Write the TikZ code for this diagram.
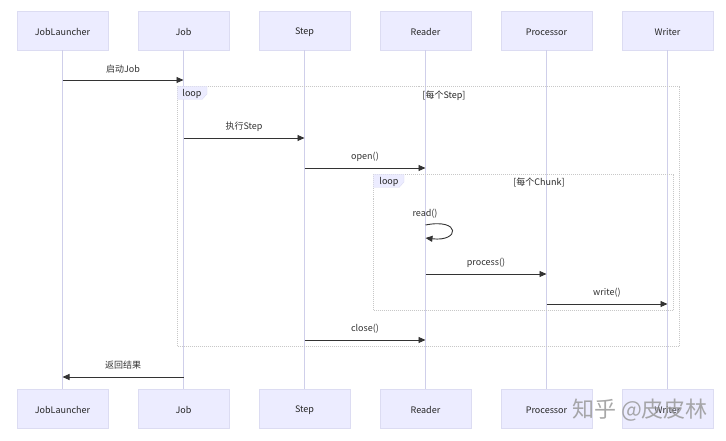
\documentclass[tikz,border=0pt]{standalone}
\usepackage{fontspec}
\setmainfont{Noto Sans CJK SC}
\usetikzlibrary{arrows.meta}
\definecolor{actorfill}{HTML}{ECECFF}
\definecolor{actorline}{HTML}{DCDCF2}
\definecolor{lifeline}{HTML}{CFCFEA}
\definecolor{msgline}{HTML}{333333}
\definecolor{loopline}{HTML}{C8C8C8}
\tikzset{
  actor/.style={fill=actorfill, draw=actorline, line width=0.5pt, minimum width=91pt, minimum height=39pt, inner sep=0pt, font=\fontsize{9}{10}\selectfont, text=black!85},
  actortext/.style={font=\fontsize{9}{10}\selectfont, text=black!85, inner sep=0pt},
  life/.style={draw=lifeline, line width=0.8pt},
  msg/.style={draw=msgline, line width=0.9pt, -{Triangle[length=7pt,width=6pt]}},
  msglabel/.style={font=\fontsize{9}{10}\selectfont, text=black!80, inner sep=0pt},
  loopbox/.style={draw=loopline, line width=0.6pt, dash pattern=on 1pt off 1pt},
  looptag/.style={fill=actorfill, draw=actorline, line width=0.4pt},
  looptext/.style={font=\fontsize{9}{10}\selectfont, text=black!85, inner sep=0pt},
}
\begin{document}
\begin{tikzpicture}[x=1pt,y=-1pt]
\useasboundingbox (0,0) rectangle (726,441);
% participants top
\node[actor] (jl) at (62.5,30.5) {};
\node[actor] (job) at (183.5,30.5) {};
\node[actor] (step) at (304.5,30.5) {};
\node[actor] (rd) at (425.5,30.5) {};
\node[actor] (pr) at (546.5,30.5) {};
\node[actor] (wr) at (667.5,30.5) {};
% participants bottom
\node[actor] (jlb) at (62.5,408.5) {};
\node[actor] (jobb) at (183.5,408.5) {};
\node[actor] (stepb) at (304.5,408.5) {};
\node[actor] (rdb) at (425.5,408.5) {};
\node[actor] (prb) at (546.5,408.5) {};
\node[actor] (wrb) at (667.5,408.5) {};
\foreach \a/\t in {jl/JobLauncher, job/Job, step/Step, rd/Reader, pr/Processor, wr/Writer}{
  \node[actortext] (\a-t) at ([yshift=-1.5pt]\a.center) {\t};
  \node[actortext] (\a b-t) at ([yshift=-1.5pt]\a b.center) {\t};
}
% lifelines
\foreach \a/\b in {jl/jlb, job/jobb, step/stepb, rd/rdb, pr/prb, wr/wrb}
  \draw[life] (\a.south) -- (\b.north);
% outer loop
\draw[loopbox] (177.5,86.5) rectangle (679.5,346.5);
\draw[looptag] (177.5,86.5) -- (207,86.5) -- (207,94) -- (202,99.5) -- (177.5,99.5) -- cycle;
\node[looptext] (l1) at (192,94) {loop};
\node[looptext] (c1) at (444,95.5) {[每个Step]};
% inner loop
\draw[loopbox] (373.5,174.5) rectangle (673.5,310.5);
\draw[looptag] (373.5,174.5) -- (404,174.5) -- (404,182) -- (399,187.5) -- (373.5,187.5) -- cycle;
\node[looptext] (l2) at (389,182) {loop};
\node[looptext] (c2) at (539,182.5) {[每个Chunk]};
% message points
\coordinate (a1) at (62.5,80);  \coordinate (b1) at (183.5,80);
\coordinate (a2) at (183.5,138); \coordinate (b2) at (304.5,138);
\coordinate (a3) at (304.5,168); \coordinate (b3) at (425.5,168);
\coordinate (a4) at (425.5,225); \coordinate (b4) at (425.5,238);
\coordinate (a5) at (425.5,274); \coordinate (b5) at (546.5,274);
\coordinate (a6) at (546.5,304); \coordinate (b6) at (667.5,304);
\coordinate (a7) at (304.5,340); \coordinate (b7) at (425.5,340);
\coordinate (a8) at (183.5,377); \coordinate (b8) at (62.5,377);
\draw[msg] (a1) -- (b1);
\node[msglabel] (t1) at (123,69.5) {启动Job};
\draw[msg] (a2) -- (b2);
\node[msglabel] (t2) at (244,127) {执行Step};
\draw[msg] (a3) -- (b3);
\node[msglabel] (t3) at (365,157) {open()};
\draw[msg] (a4) .. controls (461,218) and (460,242) .. (b4);
\node[msglabel] (t4) at (425,214) {read()};
\draw[msg] (a5) -- (b5);
\node[msglabel] (t5) at (486,263) {process()};
\draw[msg] (a6) -- (b6);
\node[msglabel] (t6) at (607,293) {write()};
\draw[msg] (a7) -- (b7);
\node[msglabel] (t7) at (365,329) {close()};
\draw[msg] (a8) -- (b8);
\node[msglabel] (t8) at (123,365) {返回结果};
% watermark
\node[font=\fontsize{22}{24}\selectfont, text=black!40, opacity=0.85, inner sep=0pt] (wm) at (640,410) {知乎 @皮皮林};
\end{tikzpicture}
\end{document}
